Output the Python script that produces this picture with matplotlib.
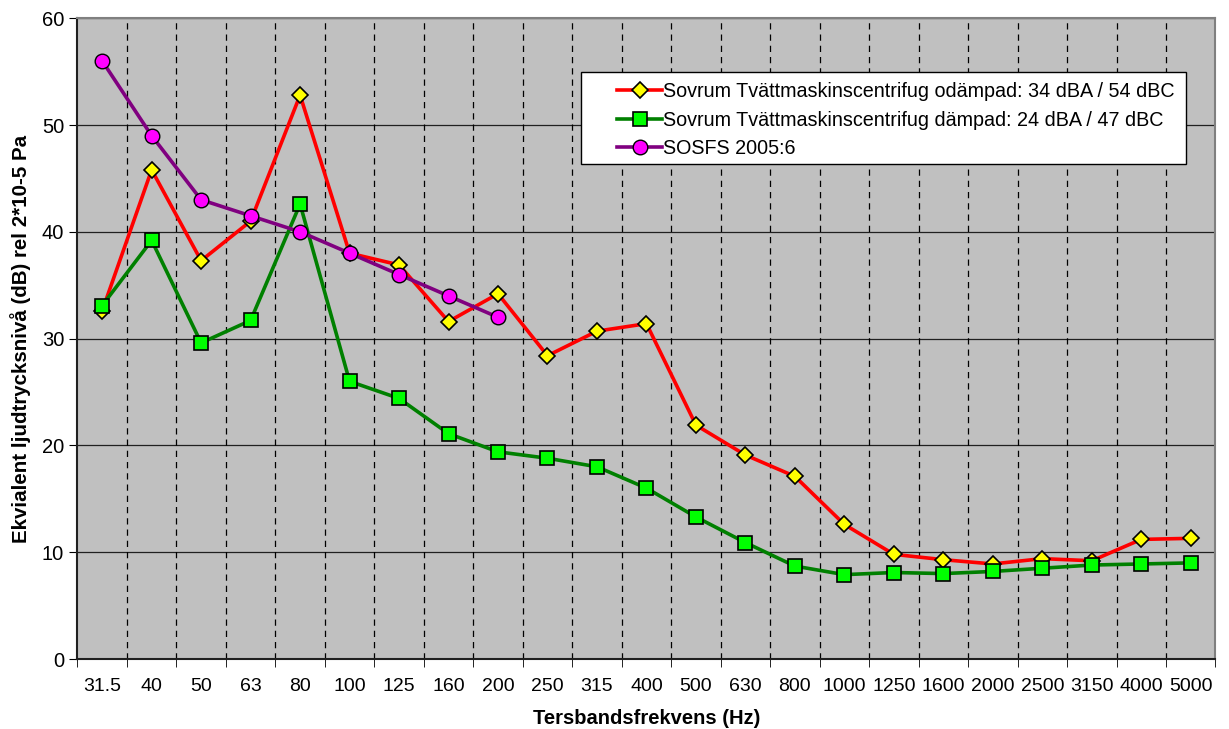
import matplotlib
matplotlib.use('Agg')
import matplotlib.pyplot as plt
from matplotlib.patches import Rectangle
import numpy as np

plt.rcParams['font.family'] = ['Liberation Sans', 'DejaVu Sans']

freqs = ['31.5', '40', '50', '63', '80', '100', '125', '160', '200', '250', '315',
         '400', '500', '630', '800', '1000', '1250', '1600', '2000', '2500', '3150',
         '4000', '5000']

odampad = [32.6, 45.8, 37.3, 41.0, 52.8, 38.0, 36.9, 31.6, 34.2, 28.4, 30.7,
           31.4, 21.9, 19.1, 17.1, 12.6, 9.8, 9.3, 8.9, 9.4, 9.2, 11.2, 11.3]
dampad = [33.1, 39.2, 29.6, 31.7, 42.6, 26.0, 24.4, 21.1, 19.4, 18.8, 18.0,
          16.0, 13.3, 10.9, 8.7, 7.9, 8.1, 8.0, 8.2, 8.5, 8.8, 8.9, 9.0]
sosfs = [56, 49, 43, 41.5, 40, 38, 36, 34, 32]

labels = ['Sovrum Tvättmaskinscentrifug odämpad: 34 dBA / 54 dBC',
          'Sovrum Tvättmaskinscentrifug dämpad: 24 dBA / 47 dBC',
          'SOSFS 2005:6']

fig = plt.figure(figsize=(12.29, 7.29), dpi=100)
ax = fig.add_axes([0.063, 0.096, 0.926, 0.879])
ax.set_facecolor('#C0C0C0')

x = np.arange(len(freqs))
ax.plot(x, odampad, color='#FF0000', lw=2.6, marker='D', ms=8.5,
        mfc='#FFFF00', mec='black', mew=1.2, label=labels[0], zorder=3)
ax.plot(x, dampad, color='#008000', lw=2.6, marker='s', ms=9.5,
        mfc='#00FF00', mec='black', mew=1.2, label=labels[1], zorder=3)
ax.plot(x[:len(sosfs)], sosfs, color='#800080', lw=2.6, marker='o', ms=10.5,
        mfc='#FF00FF', mec='black', mew=1.0, label=labels[2], zorder=4)

ax.set_xlim(-0.5, len(freqs) - 0.5)
ax.set_ylim(0, 60)
ax.set_yticks(range(0, 61, 10))
ax.set_xticks(x)
ax.set_xticklabels(freqs)
ax.set_xticks(np.arange(-0.5, len(freqs), 1), minor=True)
ax.tick_params(axis='x', which='major', length=0, labelsize=14, pad=14)
ax.tick_params(axis='x', which='minor', length=6, direction='out')
ax.tick_params(axis='y', length=6, labelsize=14.5)

ax.grid(axis='y', color='#202020', lw=0.9, ls='-')
for b in np.arange(0.5, len(freqs) - 1, 1):
    ax.axvline(b, color='black', lw=0.9, ls=(0, (5, 4)), zorder=1)
ax.set_axisbelow(True)

for s in ['left', 'bottom']:
    ax.spines[s].set_linewidth(1.5)
    ax.spines[s].set_color('#202020')
for s in ['top', 'right']:
    ax.spines[s].set_linewidth(1.5)
    ax.spines[s].set_color('#808080')

ax.set_xlabel('Tersbandsfrekvens (Hz)', fontsize=14.5, fontweight='bold', labelpad=10)
ax.set_ylabel('Ekvialent ljudtrycksnivå (dB) rel 2*10-5 Pa', fontsize=14.8,
              fontweight='bold', labelpad=8)

# legend box drawn separately so the handles sit with extra left margin
ax.add_patch(Rectangle((0.4425, 0.772), 0.532, 0.144, transform=ax.transAxes,
                       facecolor='white', edgecolor='black', lw=1.0, zorder=5))
leg = ax.legend(loc='upper left', bbox_to_anchor=(0.474, 0.901), fontsize=14.2,
                frameon=False, handlelength=2.3, handletextpad=0.05,
                borderpad=0, labelspacing=0.5, borderaxespad=0)
leg.set_zorder(6)

plt.savefig('out.png', dpi=100)
